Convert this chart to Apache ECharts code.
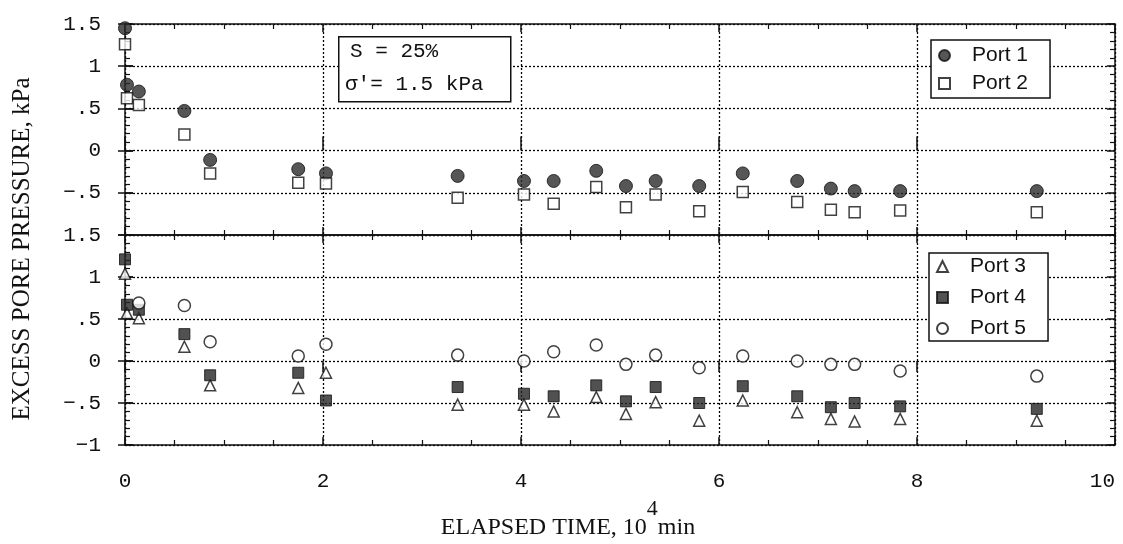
<!DOCTYPE html>
<html>
<head>
<meta charset="utf-8">
<script src="https://cdn.jsdelivr.net/npm/echarts@6/dist/echarts.min.js"></script>
<style>
  html, body { margin: 0; padding: 0; background: #fff; }
  #chart { width: 1123px; height: 544px; }
</style>
</head>
<body>
<div id="chart"></div>
<script>
// elapsed time, 10^4 min
const times = [0, 0.02, 0.14, 0.60, 0.86, 1.75, 2.03, 3.36, 4.03, 4.33, 4.76, 5.06, 5.36, 5.80, 6.24, 6.79, 7.13, 7.37, 7.83, 9.21]
// excess pore pressure, kPa
const port1 = [1.45, 0.78, 0.70, 0.47, -0.11, -0.22, -0.27, -0.30, -0.36, -0.36, -0.24, -0.42, -0.36, -0.42, -0.27, -0.36, -0.45, -0.48, -0.48, -0.48]
const port2 = [1.26, 0.62, 0.54, 0.19, -0.27, -0.38, -0.39, -0.56, -0.52, -0.63, -0.43, -0.67, -0.52, -0.72, -0.49, -0.61, -0.70, -0.73, -0.71, -0.73]
const port3 = [1.04, 0.57, 0.51, 0.17, -0.29, -0.32, -0.14, -0.52, -0.52, -0.60, -0.43, -0.63, -0.49, -0.71, -0.47, -0.61, -0.69, -0.72, -0.69, -0.71]
const port4 = [1.21, 0.67, 0.61, 0.32, -0.17, -0.14, -0.47, -0.31, -0.39, -0.42, -0.29, -0.48, -0.31, -0.50, -0.30, -0.42, -0.55, -0.50, -0.54, -0.57]
const port5 = [null, null, 0.69, 0.66, 0.23, 0.06, 0.20, 0.07, 0.00, 0.11, 0.19, -0.04, 0.07, -0.08, 0.06, 0.00, -0.04, -0.04, -0.12, -0.18]
const xTicks = [0, 2, 4, 6, 8, 10]
const yTicks = [-1, -0.5, 0, 0.5, 1, 1.5]

const ink = '#111'
const mono = 'Liberation Mono'
const serif = 'Liberation Serif'
const sans = 'Liberation Sans'

function pairs(ys) {
  return times.map((t, i) => [t, ys[i]]).filter(p => p[1] !== null)
}

// 1.5 / 1 / .5 / 0 / -.5 / -1
function fmtY(v) {
  if (v === 0) return '0'
  const s = String(Math.abs(v)).replace(/^0/, '')
  return (v < 0 ? '\u2212' : '') + s
}

function xAx(grid, position, extra) {
  return Object.assign({
    type: 'value', gridIndex: grid, position: position,
    min: xTicks[0], max: xTicks[xTicks.length - 1], interval: 2,
    axisLine: { show: true, onZero: false, lineStyle: { color: ink, width: 1.5 } },
    axisTick: { show: true, inside: true, length: 8, lineStyle: { color: ink, width: 1.5 } },
    minorTick: { show: true, splitNumber: 4, length: 5, lineStyle: { color: ink, width: 1.2 } },
    axisLabel: { show: false },
    splitLine: { show: false }
  }, extra)
}

function yAx(grid, position, extra) {
  return Object.assign({
    type: 'value', gridIndex: grid, position: position,
    min: yTicks[0], max: yTicks[yTicks.length - 1], interval: 0.5,
    axisLine: { show: true, onZero: false, lineStyle: { color: ink, width: 1.5 } },
    axisTick: { show: true, inside: true, length: 8, lineStyle: { color: ink, width: 1.5 } },
    minorTick: { show: true, splitNumber: 5, length: 5, lineStyle: { color: ink, width: 1.2 } },
    axisLabel: { show: false },
    splitLine: { show: false }
  }, extra)
}

// ticks that poke out of the frame
const outTick = (len) => ({
  axisLine: { show: false },
  axisTick: { show: true, inside: false, length: len, lineStyle: { color: ink, width: 1.5 } },
  minorTick: { show: false }
})

const gridDots = { show: true, lineStyle: { color: '#000', width: 1.3, type: [2, 2] } }

const xAxes = [
  xAx(0, 'bottom', { splitLine: gridDots }),
  xAx(0, 'top', {}),
  xAx(0, 'top', outTick(14)),
  xAx(1, 'bottom', {
    splitLine: gridDots,
    axisLabel: { show: true, margin: 26, color: ink, fontFamily: mono, fontSize: 21, alignMaxLabel: 'right' }
  }),
  xAx(1, 'bottom', outTick(11)),
  xAx(1, 'top', {})
]

const yAxes = [
  yAx(0, 'left', {
    splitLine: gridDots,
    axisLabel: { show: true, margin: 24, color: ink, fontFamily: mono, fontSize: 21,
      formatter: v => (v === -1 ? '' : fmtY(v)) }
  }),
  yAx(0, 'left', outTick(7)),
  yAx(0, 'right', {}),
  yAx(0, 'right', outTick(8)),
  yAx(1, 'left', {
    splitLine: gridDots,
    axisLabel: { show: true, margin: 24, color: ink, fontFamily: mono, fontSize: 21, formatter: fmtY }
  }),
  yAx(1, 'left', outTick(7)),
  yAx(1, 'right', {}),
  yAx(1, 'right', outTick(8))
]

const open = { color: '#fff', borderColor: ink, borderWidth: 1.5 }

const series = [
  { name: 'Port 1', ys: port1, x: 0, y: 0, symbol: 'circle', size: 13,
    style: { color: '#2c2c2c', borderColor: ink, borderWidth: 1 } },
  { name: 'Port 2', ys: port2, x: 0, y: 0, symbol: 'rect', size: 11, style: open },
  { name: 'Port 3', ys: port3, x: 3, y: 4, symbol: 'triangle', size: 11, style: open },
  { name: 'Port 4', ys: port4, x: 3, y: 4, symbol: 'rect', size: 11,
    style: { color: '#262626', borderColor: ink, borderWidth: 1 } },
  { name: 'Port 5', ys: port5, x: 3, y: 4, symbol: 'circle', size: 12, style: open }
].map(s => ({
  name: s.name,
  type: 'scatter',
  xAxisIndex: s.x,
  yAxisIndex: s.y,
  symbol: s.symbol,
  symbolSize: s.size,
  itemStyle: s.style,
  clip: false,
  data: pairs(s.ys)
}))

const legendBase = {
  orient: 'vertical',
  backgroundColor: '#fff',
  borderColor: ink,
  borderWidth: 1.5,
  borderRadius: 0,
  itemWidth: 11,
  itemHeight: 11,
  selectedMode: false,
  textStyle: { color: ink, fontFamily: sans, fontSize: 21, padding: [0, 0, 0, 17] }
}

const option = {
  backgroundColor: '#fff',
  animation: false,
  grid: [
    { left: 125, right: 8, top: 24, height: 211, outerBoundsMode: 'none' },
    { left: 125, right: 8, top: 235, height: 210, outerBoundsMode: 'none' }
  ],
  xAxis: xAxes,
  yAxis: yAxes,
  legend: [
    Object.assign({}, legendBase, {
      data: ['Port 1', 'Port 2'], left: 931, top: 40, padding: [5, 22, 4, 7], itemGap: 7
    }),
    Object.assign({}, legendBase, {
      data: ['Port 3', 'Port 4', 'Port 5'], left: 929, top: 253, padding: [3, 22, 2, 7], itemGap: 10
    })
  ],
  graphic: [
    {
      type: 'rect', left: 338, top: 36, z: 10,
      shape: { width: 172, height: 65 },
      style: { fill: '#fff', stroke: ink, lineWidth: 1.5 }
    },
    {
      type: 'text', left: 350, top: 41, z: 11,
      style: { text: 'S = 25%', font: '21px "' + mono + '"', fill: ink }
    },
    {
      type: 'text', left: 345, top: 74, z: 11,
      style: { text: "\u03c3'= 1.5 kPa", font: '21px "' + mono + '"', fill: ink }
    },
    {
      type: 'text', x: 22, y: 249, rotation: Math.PI / 2,
      style: {
        text: 'EXCESS PORE PRESSURE, kPa', font: '25px "' + serif + '"', fill: ink,
        align: 'center', verticalAlign: 'middle'
      }
    },
    {
      type: 'text', x: 568, y: 540,
      style: {
        text: '{a|ELAPSED TIME, 10}{s|4}{a|min}',
        align: 'center', verticalAlign: 'bottom', fill: ink,
        rich: {
          a: { fontFamily: serif, fontSize: 24, lineHeight: 26, verticalAlign: 'bottom', fill: ink },
          s: { fontFamily: serif, fontSize: 22, lineHeight: 22, padding: [0, 0, 20, 0], verticalAlign: 'bottom', fill: ink }
        }
      }
    }
  ],
  series: series
}

const chart = echarts.init(document.getElementById('chart'))
chart.setOption(option)
</script>
</body>
</html>
